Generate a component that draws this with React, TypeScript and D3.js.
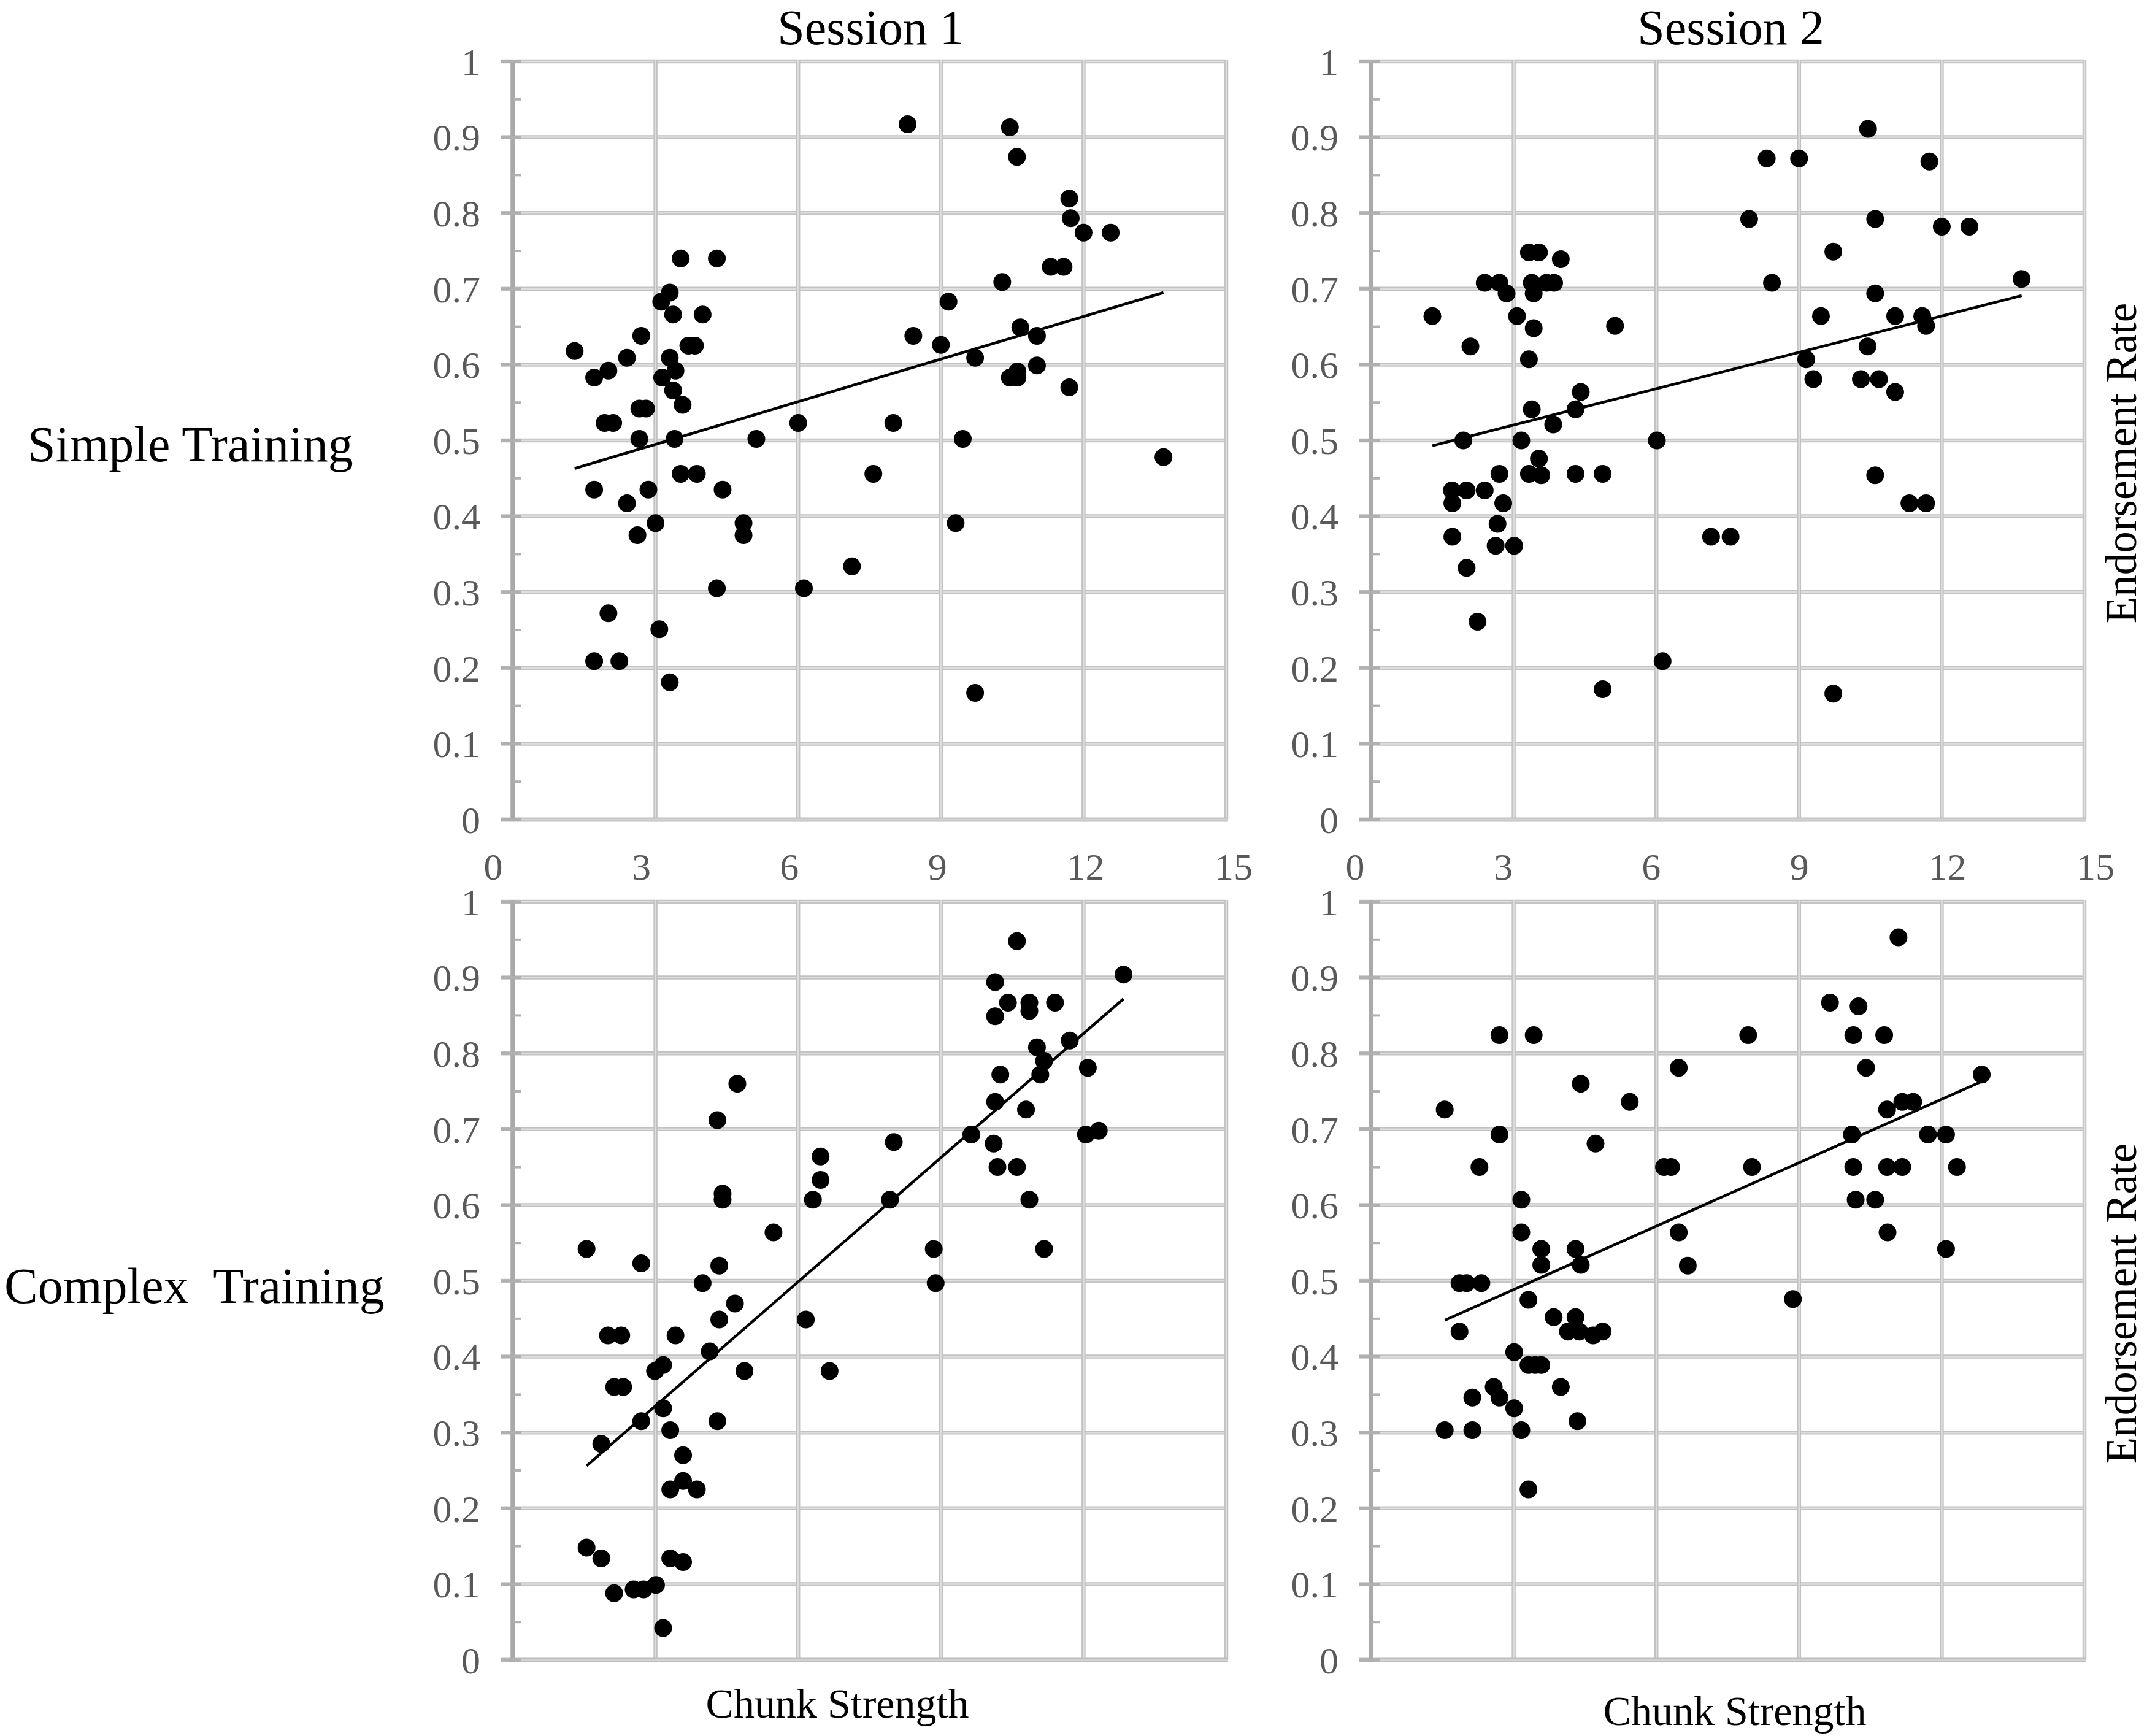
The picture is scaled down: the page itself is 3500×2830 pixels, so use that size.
import React from "react";
import * as d3 from "d3";

// ---------- data ----------
const sessions = ["Session 1", "Session 2"];
const trainings = ["Simple Training", "Complex  Training"];
const xTickValues = [0, 3, 6, 9, 12, 15];
const xTickLabels = ["0", "3", "6", "9", "12", "15"];
const yTickValues = [0, 0.1, 0.2, 0.3, 0.4, 0.5, 0.6, 0.7, 0.8, 0.9, 1];
const yTickLabels = ["0", "0.1", "0.2", "0.3", "0.4", "0.5", "0.6", "0.7", "0.8", "0.9", "1"];
const xAxisTitle = "Chunk Strength";
const yAxisTitle = "Endorsement Rate";

const simpleSession1: [number, number][] = [
  [1.3, 0.618], [1.71, 0.583], [2.01, 0.592], [2.4, 0.609], [2.7, 0.638], [1.93, 0.523],
  [2.11, 0.523], [2.66, 0.542], [2.8, 0.542], [2.66, 0.502], [1.71, 0.435], [2.4, 0.417],
  [2.85, 0.435], [3.0, 0.391], [2.62, 0.375], [2.01, 0.272], [1.71, 0.209], [2.24, 0.209],
  [3.08, 0.251], [3.3, 0.181], [3.12, 0.683], [3.3, 0.695], [3.37, 0.666], [3.53, 0.74],
  [4.29, 0.74], [3.99, 0.666], [3.69, 0.625], [3.83, 0.625], [3.3, 0.609], [3.42, 0.592],
  [3.14, 0.583], [3.37, 0.566], [3.57, 0.547], [3.4, 0.502], [3.53, 0.456], [3.87, 0.456],
  [4.41, 0.435], [4.85, 0.391], [4.85, 0.375], [5.12, 0.502], [4.29, 0.305], [6.0, 0.523],
  [6.12, 0.305], [7.13, 0.334], [7.58, 0.456], [8.0, 0.523], [8.3, 0.917], [8.42, 0.638],
  [10.45, 0.913], [10.6, 0.874], [11.7, 0.819], [11.73, 0.793], [12.0, 0.774], [12.57, 0.774],
  [11.31, 0.729], [11.58, 0.729], [10.29, 0.709], [9.16, 0.683], [9.0, 0.626], [10.67, 0.649],
  [11.02, 0.638], [9.72, 0.609], [10.45, 0.583], [10.61, 0.591], [10.61, 0.583], [11.02, 0.599],
  [11.7, 0.57], [9.46, 0.502], [9.31, 0.391], [9.72, 0.167], [13.68, 0.478],
];
const simpleSession1Trend: [number, number][] = [[1.3, 0.463], [13.68, 0.695]];

const simpleSession2: [number, number][] = [
  [1.29, 0.664], [2.09, 0.624], [2.39, 0.708], [2.7, 0.708], [2.85, 0.694], [3.07, 0.664],
  [3.32, 0.748], [3.53, 0.748], [3.99, 0.739], [3.38, 0.708], [3.69, 0.708], [3.85, 0.708],
  [3.42, 0.694], [3.42, 0.648], [3.32, 0.607], [5.13, 0.651], [4.41, 0.564], [4.3, 0.541],
  [3.38, 0.541], [3.83, 0.521], [1.94, 0.5], [3.16, 0.5], [6.01, 0.5], [3.53, 0.476],
  [2.7, 0.456], [3.32, 0.456], [3.58, 0.454], [4.3, 0.456], [4.87, 0.456], [1.7, 0.434],
  [2.01, 0.434], [2.39, 0.434], [1.71, 0.417], [2.78, 0.417], [2.66, 0.39], [1.71, 0.373],
  [2.62, 0.361], [3.01, 0.361], [2.01, 0.332], [2.24, 0.261], [6.13, 0.209], [4.87, 0.172],
  [7.15, 0.373], [7.56, 0.373], [7.95, 0.792], [8.32, 0.872], [9.0, 0.872], [10.45, 0.911],
  [11.74, 0.868], [10.6, 0.792], [12.0, 0.782], [12.58, 0.782], [9.72, 0.749], [8.43, 0.708],
  [13.68, 0.713], [10.6, 0.694], [9.46, 0.664], [11.02, 0.664], [11.59, 0.664], [11.67, 0.651],
  [10.44, 0.624], [9.15, 0.607], [9.3, 0.581], [10.3, 0.581], [10.68, 0.581], [11.02, 0.564],
  [10.6, 0.454], [11.32, 0.417], [11.67, 0.417], [9.72, 0.166],
];
const simpleSession2Trend: [number, number][] = [[1.29, 0.493], [13.68, 0.691]];

const complexSession1: [number, number][] = [
  [4.72, 0.76], [4.3, 0.712], [4.41, 0.615], [4.41, 0.607], [5.48, 0.564], [1.55, 0.542],
  [2.7, 0.523], [4.34, 0.52], [3.99, 0.497], [4.67, 0.47], [4.34, 0.449], [2.0, 0.428],
  [2.28, 0.428], [3.42, 0.428], [4.14, 0.407], [2.99, 0.381], [3.16, 0.389], [4.87, 0.381],
  [2.13, 0.36], [2.32, 0.36], [2.7, 0.315], [3.16, 0.332], [4.3, 0.315], [3.31, 0.303],
  [1.86, 0.285], [3.58, 0.27], [3.58, 0.236], [3.31, 0.225], [3.87, 0.225], [1.55, 0.148],
  [1.86, 0.134], [3.31, 0.134], [3.58, 0.129], [2.13, 0.088], [2.54, 0.093], [2.75, 0.093],
  [3.01, 0.099], [3.16, 0.042], [6.16, 0.449], [6.66, 0.381], [6.47, 0.664], [6.47, 0.633],
  [6.31, 0.607], [8.01, 0.683], [7.93, 0.607], [8.85, 0.542], [8.89, 0.497], [9.64, 0.693],
  [10.6, 0.948], [10.14, 0.894], [10.14, 0.849], [10.41, 0.867], [10.86, 0.867], [10.86, 0.856],
  [11.4, 0.867], [11.02, 0.808], [11.17, 0.79], [11.09, 0.772], [11.71, 0.817], [10.25, 0.772],
  [10.14, 0.736], [10.79, 0.726], [12.09, 0.781], [12.05, 0.693], [12.32, 0.698], [10.11, 0.681],
  [10.19, 0.65], [10.6, 0.65], [10.86, 0.607], [11.17, 0.542], [12.84, 0.904],
];
const complexSession1Trend: [number, number][] = [[1.55, 0.256], [12.84, 0.872]];

const complexSession2: [number, number][] = [
  [2.7, 0.824], [3.42, 0.824], [1.55, 0.726], [2.7, 0.693], [2.28, 0.65], [4.41, 0.76],
  [5.44, 0.736], [4.72, 0.681], [3.16, 0.607], [3.16, 0.564], [3.58, 0.542], [4.3, 0.542],
  [3.58, 0.521], [4.41, 0.521], [1.86, 0.497], [2.01, 0.497], [2.32, 0.497], [3.31, 0.475],
  [1.86, 0.433], [3.84, 0.452], [4.3, 0.452], [4.14, 0.433], [4.38, 0.433], [4.67, 0.428],
  [4.87, 0.433], [3.01, 0.406], [3.31, 0.389], [3.45, 0.389], [3.58, 0.389], [2.58, 0.36],
  [2.13, 0.346], [2.7, 0.346], [3.01, 0.332], [3.99, 0.36], [4.34, 0.315], [1.55, 0.303],
  [2.13, 0.303], [3.16, 0.303], [3.31, 0.225], [6.16, 0.65], [6.31, 0.65], [6.47, 0.781],
  [6.47, 0.564], [6.66, 0.52], [7.93, 0.824], [8.01, 0.65], [8.87, 0.476], [9.65, 0.867],
  [10.25, 0.862], [10.14, 0.824], [10.79, 0.824], [10.41, 0.781], [11.09, 0.953], [12.84, 0.772],
  [10.85, 0.726], [11.17, 0.736], [11.4, 0.736], [10.11, 0.693], [11.71, 0.693], [12.09, 0.693],
  [10.14, 0.65], [10.85, 0.65], [11.17, 0.65], [12.32, 0.65], [10.19, 0.607], [10.6, 0.607],
  [10.86, 0.564], [12.09, 0.542],
];
const complexSession2Trend: [number, number][] = [[1.55, 0.448], [12.84, 0.763]];

// ---------- layout ----------
const W = 3500;
const H = 2830;
const FONT = "'Liberation Serif', 'Times New Roman', Times, serif";
const colX = [836, 2235];
const rowTop = [100, 1470];
const plotW = 1163;
const plotH = 1236;

type PanelProps = {
  left: number;
  top: number;
  points: [number, number][];
  trend: [number, number][];
  showXLabels: boolean;
  xLabelShift: number;
  showYTitle: boolean;
  showXTitle: boolean;
  xTitleX: number;
  xTitleY: number;
};

function Gridline({ x1, y1, x2, y2 }: { x1: number; y1: number; x2: number; y2: number }) {
  return (
    <g>
      <line x1={x1} y1={y1} x2={x2} y2={y2} stroke="#c2c2c2" strokeWidth={6.5} />
      <line x1={x1} y1={y1} x2={x2} y2={y2} stroke="#dedede" strokeWidth={2.5} />
    </g>
  );
}

function Panel(p: PanelProps) {
  const x = d3.scaleLinear().domain([0, 15]).range([p.left, p.left + plotW]);
  const y = d3.scaleLinear().domain([0, 1]).range([p.top + plotH, p.top]);
  const labelX = d3
    .scaleLinear()
    .domain([0, 15])
    .range([p.left + p.xLabelShift, p.left + p.xLabelShift + 1207]);
  const minor = d3.range(0, 10).map((i) => i / 10 + 0.05);
  const line = d3
    .line<[number, number]>()
    .x((d) => x(d[0]))
    .y((d) => y(d[1]));
  const x0 = x(0);
  const yb = y(0);
  return (
    <g>
      {yTickValues
        .filter((v) => v > 0)
        .map((v) => (
          <Gridline key={"h" + v} x1={x0 - 19} y1={y(v)} x2={x(15)} y2={y(v)} />
        ))}
      {xTickValues
        .filter((v) => v > 0)
        .map((v) => (
          <Gridline key={"v" + v} x1={x(v)} y1={y(1) - 3} x2={x(v)} y2={yb} />
        ))}
      {/* x axis */}
      <line x1={x0 - 19} y1={yb} x2={x(15) + 3} y2={yb} stroke="#bdbdbd" strokeWidth={7} />
      <line x1={x0 - 19} y1={yb} x2={x(15) + 3} y2={yb} stroke="#d3d3d3" strokeWidth={3} />
      {/* y axis */}
      <line x1={x0} y1={y(1) - 3} x2={x0} y2={yb + 3} stroke="#a9a9a9" strokeWidth={7.5} />
      {yTickValues.map((v) => (
        <line key={"mt" + v} x1={x0 - 19} y1={y(v)} x2={x0 + 14} y2={y(v)} stroke="#b0b0b0" strokeWidth={5} />
      ))}
      {minor.map((v) => (
        <line key={"mn" + v} x1={x0} y1={y(v)} x2={x0 + 14} y2={y(v)} stroke="#b0b0b0" strokeWidth={4} />
      ))}
      {yTickValues.map((v, i) => (
        <text
          key={"yl" + v}
          x={x0 - 53}
          y={y(v)}
          dy="0.35em"
          textAnchor="end"
          fontFamily={FONT}
          fontSize={62}
          fill="#595959"
        >
          {yTickLabels[i]}
        </text>
      ))}
      {p.showXLabels &&
        xTickValues.map((v, i) => (
          <text
            key={"xl" + v}
            x={labelX(v)}
            y={yb + 98}
            textAnchor="middle"
            fontFamily={FONT}
            fontSize={62}
            fill="#595959"
          >
            {xTickLabels[i]}
          </text>
        ))}
      <path d={line(p.trend) || ""} fill="none" stroke="#000" strokeWidth={4.5} />
      {p.points.map((d, i) => (
        <circle key={"pt" + i} cx={x(d[0])} cy={y(d[1])} r={14.5} fill="#000" />
      ))}
      {p.showYTitle && (
        <text
          transform={`translate(3482, ${p.top + plotH / 2 + 37}) rotate(-90)`}
          textAnchor="middle"
          fontFamily={FONT}
          fontSize={71}
          fill="#000"
        >
          {yAxisTitle}
        </text>
      )}
      {p.showXTitle && (
        <text x={p.xTitleX} y={p.xTitleY} textAnchor="middle" fontFamily={FONT} fontSize={68} fill="#000">
          {xAxisTitle}
        </text>
      )}
    </g>
  );
}

export default function App() {
  return (
    <div style={{ position: "absolute", left: 0, top: 0, background: "#fff" }}>
      <svg width={W} height={H} viewBox={`0 0 ${W} ${H}`} style={{ display: "block" }}>
        <rect x={0} y={0} width={W} height={H} fill="#fff" />
        <text x={colX[0] + plotW / 2 + 2} y={72} textAnchor="middle" fontFamily={FONT} fontSize={80}>
          {sessions[0]}
        </text>
        <text x={colX[1] + plotW / 2 + 5} y={72} textAnchor="middle" fontFamily={FONT} fontSize={80}>
          {sessions[1]}
        </text>
        <text x={45} y={752} textAnchor="start" fontFamily={FONT} fontSize={82}>
          {trainings[0]}
        </text>
        <text x={7} y={2124} textAnchor="start" fontFamily={FONT} fontSize={82} style={{ whiteSpace: "pre" }}>
          {trainings[1]}
        </text>
        <Panel
          left={colX[0]}
          top={rowTop[0]}
          points={simpleSession1}
          trend={simpleSession1Trend}
          showXLabels={true}
          xLabelShift={-32}
          showYTitle={false}
          showXTitle={false}
          xTitleX={0}
          xTitleY={0}
        />
        <Panel
          left={colX[1]}
          top={rowTop[0]}
          points={simpleSession2}
          trend={simpleSession2Trend}
          showXLabels={true}
          xLabelShift={-26}
          showYTitle={true}
          showXTitle={false}
          xTitleX={0}
          xTitleY={0}
        />
        <Panel
          left={colX[0]}
          top={rowTop[1]}
          points={complexSession1}
          trend={complexSession1Trend}
          showXLabels={false}
          xLabelShift={-32}
          showYTitle={false}
          showXTitle={true}
          xTitleX={1365}
          xTitleY={2800}
        />
        <Panel
          left={colX[1]}
          top={rowTop[1]}
          points={complexSession2}
          trend={complexSession2Trend}
          showXLabels={false}
          xLabelShift={-26}
          showYTitle={true}
          showXTitle={true}
          xTitleX={2828}
          xTitleY={2812}
        />
      </svg>
    </div>
  );
}
